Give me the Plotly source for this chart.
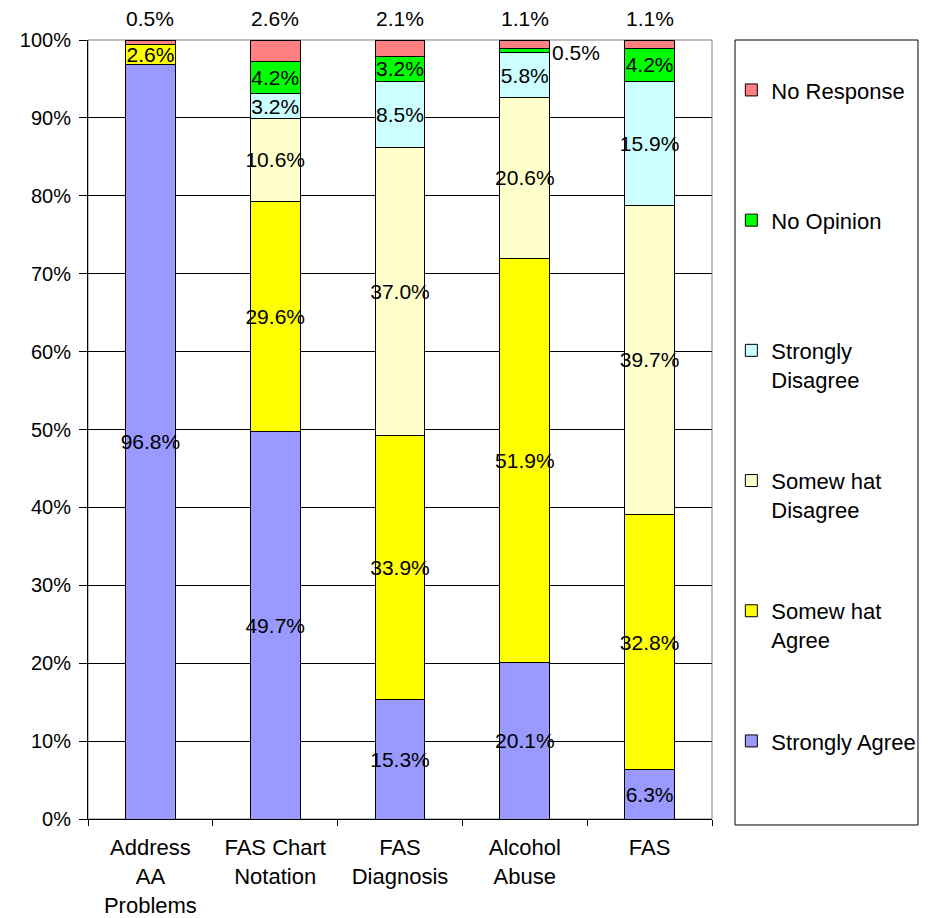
import plotly.graph_objects as go

categories = ["Address<br>AA<br>Problems", "FAS Chart<br>Notation", "FAS<br>Diagnosis",
              "Alcohol<br>Abuse", "FAS"]

strongly_agree = [96.8, 49.7, 15.3, 20.1, 6.3]
somewhat_agree = [2.6, 29.6, 33.9, 51.9, 32.8]
somewhat_disagree = [0.0, 10.6, 37.0, 20.6, 39.7]
strongly_disagree = [0.0, 3.2, 8.5, 5.8, 15.9]
no_opinion = [0.0, 4.2, 3.2, 0.5, 4.2]
no_response = [0.5, 2.6, 2.1, 1.1, 1.1]

series = [
    ("Strongly Agree", strongly_agree, "#9999FF"),
    ("Somew hat<br>Agree", somewhat_agree, "#FFFF00"),
    ("Somew hat<br>Disagree", somewhat_disagree, "#FFFFCC"),
    ("Strongly<br>Disagree", strongly_disagree, "#CCFFFF"),
    ("No Opinion", no_opinion, "#00FF00"),
    ("No Response", no_response, "#FF8080"),
]

FONT = "Liberation Sans, Arial, sans-serif"
FS = 21

fig = go.Figure()

for i, (name, vals, color) in enumerate(series):
    if name == "No Response":
        txt = ["" for v in vals]
    else:
        # tiny slices get their label outside the bar (see annotation below)
        txt = [f"{v:.1f}%" if v >= 1 else "" for v in vals]
    # make every legend entry two lines tall so the spacing is even
    label = name if "<br>" in name else name + "<br> "
    fig.add_trace(go.Bar(
        name=label,
        x=categories,
        y=vals,
        marker=dict(color=color, line=dict(color="black", width=1)),
        text=txt,
        textposition="inside",
        insidetextanchor="middle",
        textangle=0,
        textfont=dict(color="black", size=FS, family=FONT),
        legendgroup=str(i),
        legendrank=len(series) - i,
        hoverinfo="skip",
    ))

# no response labels sit above the plot
for cat, v in zip(categories, no_response):
    fig.add_annotation(
        x=cat, y=100, yref="y", xref="x",
        text=f"{v:.1f}%", showarrow=False,
        yanchor="bottom", yshift=8,
        font=dict(size=FS, color="black", family=FONT),
    )

# small no opinion slice labelled beside its bar
for k, (cat, v) in enumerate(zip(categories, no_opinion)):
    if 0 < v < 1:
        base = strongly_agree[k] + somewhat_agree[k] + somewhat_disagree[k] + strongly_disagree[k]
        fig.add_annotation(
            x=cat, y=base + v / 2, xref="x", yref="y",
            text=f"{v:.1f}%", showarrow=False,
            xanchor="left", xshift=25, yshift=-2,
            font=dict(size=FS, color="black", family=FONT),
        )

# plot border (gray top/right) and legend box
fig.add_shape(type="rect", xref="paper", yref="paper", x0=0, x1=1, y0=0, y1=1,
              line=dict(color="#808080", width=1), layer="below")
fig.add_shape(type="rect", xref="paper", yref="paper", x0=1.0369, x1=1.3301,
              y0=-0.0077, y1=1.0, line=dict(color="black", width=1))

fig.update_layout(
    barmode="stack",
    bargap=0.6,
    width=922, height=910,
    margin=dict(l=80, r=218, t=32, b=99, autoexpand=False),
    paper_bgcolor="white",
    plot_bgcolor="white",
    font=dict(family=FONT, size=20, color="black"),
    uniformtext=dict(minsize=FS, mode="show"),
    showlegend=True,
    legend=dict(
        x=1.031, y=0.9626, xanchor="left", yanchor="top",
        traceorder="grouped",
        tracegroupgap=70,
        valign="top",
        bgcolor="rgba(0,0,0,0)",
        borderwidth=0,
        font=dict(size=22, family=FONT),
    ),
)

fig.update_yaxes(
    range=[0, 100], dtick=10, ticksuffix="%",
    showgrid=True, gridcolor="black", gridwidth=1,
    showline=True, linecolor="black", linewidth=1,
    ticks="outside", ticklen=8, tickcolor="black",
    ticklabelstandoff=4, tickfont=dict(size=20),
    zeroline=False, fixedrange=True, automargin=False,
)
fig.update_xaxes(
    showline=True, linecolor="black", linewidth=1,
    ticks="outside", ticklen=6, tickcolor="black",
    tickson="boundaries", ticklabelstandoff=9,
    tickfont=dict(size=22),
    showgrid=False, fixedrange=True, automargin=False,
)

fig.write_html("out.html")
